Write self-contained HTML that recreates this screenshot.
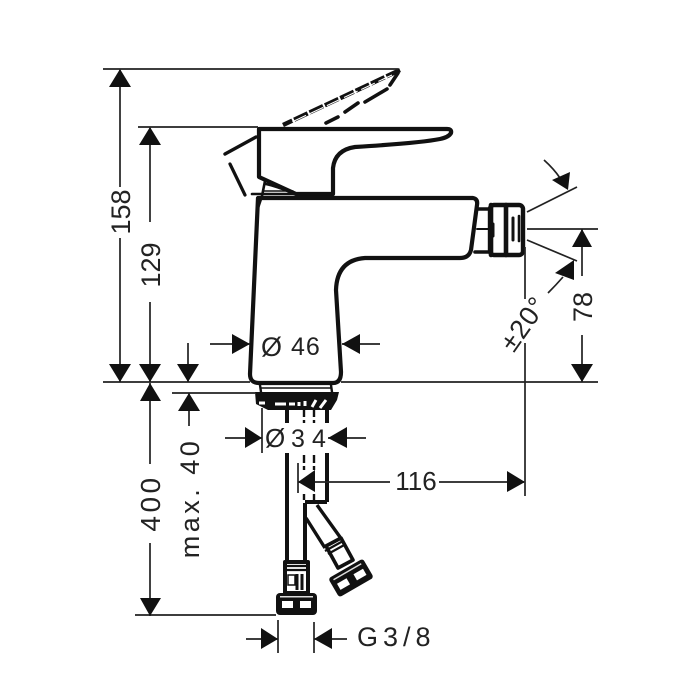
<!DOCTYPE html>
<html><head><meta charset="utf-8"><style>
html,body{margin:0;padding:0;background:#fff}
svg{display:block}
text{font-family:"Liberation Sans",sans-serif;fill:#222}
</style></head><body>
<svg width="700" height="700" viewBox="0 0 700 700" xmlns="http://www.w3.org/2000/svg">
<g fill="none" stroke="#111" stroke-linecap="round" stroke-linejoin="round">
<!-- handle -->
<path stroke-width="4.2" d="M259 129H447Q452 129 451 133Q449 137 440 139Q420 143 355 147Q335 150 333 168V194H296L259 177V129Z"/>
<path stroke-width="2.6" d="M265 181L262 196L258 208M266 184Q276 186 295 194M252 194H296"/>
<path stroke-width="1.6" d="M264 191H293"/>
<!-- lever dashed -->
<path stroke-width="4.4" stroke-linecap="butt" stroke-dasharray="15 2" d="M400 70L283 125"/>
<path stroke-width="1.1" stroke="#fff" stroke-linecap="butt" stroke-dasharray="15 4" d="M392 75L292 122"/>
<path stroke-width="3.6" d="M398 73L390 85M387 89L365 102M358 103L345 112M338 117L326 123"/>
<path stroke-width="3.4" d="M256 137L225 154"/>
<path stroke-width="3.2" d="M230 164L245 195"/>
<!-- body -->
<path stroke-width="4.2" d="M259 198H473Q478 199 477 205L471 250Q469 258 460 258H365Q337 260 336 290L341 372Q341 383 333 383H259Q250 383 250 374L258 198"/>
<!-- connector -->
<path stroke-width="3.6" d="M477 209H490M475 252H490"/>
<path stroke-width="2" d="M477 229H490"/>
<rect x="490" y="205" width="33" height="50" rx="4" stroke-width="4.4"/>
<path stroke-width="4.6" d="M491 205V255M506 205V255"/>
<path stroke-width="3" d="M493 224V236M513 218V240"/>
<path stroke-width="2.6" d="M519 216V241"/>
<!-- base -->
<path stroke-width="2.4" d="M260 385L261 392M331 385L332 392"/>
<path stroke-width="1.6" d="M261 388H331"/>
</g>
<path fill="#111" d="M255 392H339L337 400L331 410H268L256 404Z"/>
<g stroke="#fff" stroke-width="3" fill="none">
<path d="M259 403H265M275 404H286M289 404H295M299 402V406M305 401V406M316 400L312 407M326 400L320 408"/>
</g>
<!-- hoses -->
<g fill="none" stroke="#111" stroke-linejoin="round">
<path stroke-width="4" d="M287 408V423M287 453V561M305 503V561M327 408V423M327 453V502M305 502H327"/>
<path stroke-width="2.4" stroke-dasharray="8 3" d="M304 409V423M314 409V423M304 455V470M314 455V470M304 494V500M314 494V500"/>
<path stroke-width="3.4" d="M306 518L325 548M317 505L340 537"/>
<path stroke-width="3.6" d="M326 546L341 538L353 560L338 568Z"/>
<path stroke-width="2.2" d="M325 551L343 541M328 554L346 544"/>
<path stroke-width="4" d="M285 562H308V593H285Z"/>
<path stroke-width="2.2" d="M285 566H308M285 570H308"/>
<path stroke-width="3" d="M297 574V590M302 574V590"/>
</g>
<rect x="288" y="575" width="7" height="10" fill="#fff" stroke="#111" stroke-width="1.5"/>
<rect x="276" y="593" width="41" height="22" rx="4" fill="#111"/>
<rect x="282" y="601" width="11" height="7" fill="#fff"/>
<rect x="300" y="601" width="11" height="7" fill="#fff"/>
<rect x="280" y="596" width="33" height="1.5" fill="#ddd"/>
<g transform="rotate(-30 351 578)">
<rect x="331" y="567" width="40" height="22" rx="3" fill="#111"/>
<rect x="336" y="576" width="11" height="7" fill="#fff"/>
<rect x="355" y="576" width="11" height="7" fill="#fff"/>
<rect x="335" y="570" width="32" height="1.5" fill="#ddd"/>
</g>
<!-- dimension lines -->
<g fill="none" stroke="#222" stroke-width="1.7">
<path d="M103 69H398M138 127H258M103 382H250M341 382H598M172 393H255"/>
<path d="M120 70V187M120 238V382M150 128V222M150 302V382M150 383V464M150 543V616"/>
<path d="M135 615H276M188 343V382M189 393V426"/>
<path d="M210 344H250M342 344H380M225 438H262M328 438H366"/>
<path d="M262 408V453"/>
<path d="M298 463V493M298 482H390M439 482H524M525 247V299M525 343V496"/>
<path d="M527 229H598M582 229V276M582 335V382M527 212L577 187M527 240L577 261"/>
<path d="M544 160Q554 169 560 178M548 293Q556 285 563 277"/>
<path d="M246 639H278M278 620V653M314 622V653M314 639H347"/>
</g>
<!-- arrowheads -->
<g fill="#111">
<path d="M120 69L109 87H131Z"/>
<path d="M120 382L109 364H131Z"/>
<path d="M150 127L139 145H161Z"/>
<path d="M150 382L139 364H161Z"/>
<path d="M150 383L140 401H161Z"/>
<path d="M150 616L140 598H161Z"/>
<path d="M188 382L177 364H199Z"/>
<path d="M189 393L178 411H200Z"/>
<path d="M250 344L232 334V354Z"/>
<path d="M342 344L360 334V354Z"/>
<path d="M262 438L245 427V448Z"/>
<path d="M328 438L347 427V448Z"/>
<path d="M298 482L315 470V492Z"/>
<path d="M525 482L507 471V492Z"/>
<path d="M582 229L572 247H592Z"/>
<path d="M582 382L571 364H593Z"/>
<path d="M278 639L261 628V649Z"/>
<path d="M314 639L332 628V649Z"/>
<path d="M568 190L552 180L570 172Z"/>
<path d="M574 260L555 273L574 280Z"/>
</g>
<!-- labels -->
<text font-size="27" text-anchor="middle" transform="translate(130 212) rotate(-90)">158</text>
<text font-size="27" text-anchor="middle" transform="translate(160 265) rotate(-90)">129</text>
<text font-size="28" text-anchor="middle" letter-spacing="3.5" transform="translate(160 503) rotate(-90)">400</text>
<text font-size="27" text-anchor="middle" letter-spacing="3.5" transform="translate(199 498) rotate(-90)">max. 40</text>
<text font-size="27" text-anchor="middle" transform="translate(592 307) rotate(-90)">78</text>
<text font-size="27" text-anchor="middle" letter-spacing="1" transform="translate(531 329) rotate(-55)">±20°</text>
<text x="261" y="356" font-size="27" font-weight="normal">Ø</text>
<text x="291" y="355" font-size="25" letter-spacing="1">46</text>
<text x="265" y="447" font-size="26">Ø</text>
<text x="291" y="447" font-size="25">3</text>
<text x="312" y="447" font-size="25">4</text>
<text x="416" y="490" font-size="26" text-anchor="middle">116</text>
<text x="357" y="646" font-size="27" letter-spacing="5">G3/8</text>
</svg>
</body></html>
